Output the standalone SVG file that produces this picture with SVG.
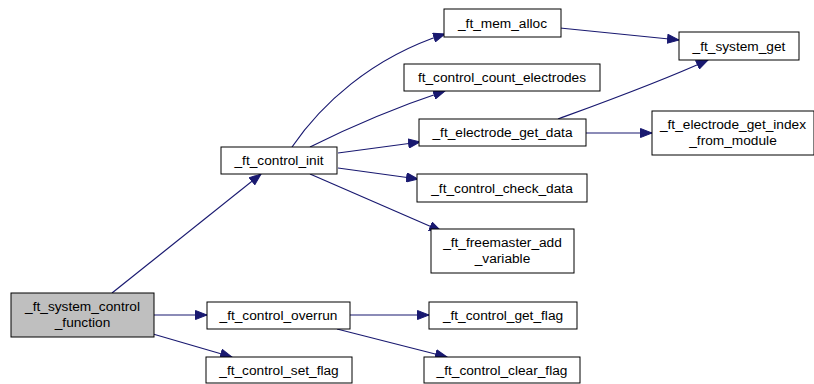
<svg xmlns="http://www.w3.org/2000/svg" width="814" height="384" viewBox="0 0 814 384">
<defs>
<style>
.n rect{fill:#fff;stroke:#000;stroke-width:1}
.n.root rect{fill:#bfbfbf}
.n text{font-family:"Liberation Sans",Arial,sans-serif;font-size:13.7px;text-anchor:middle;fill:#000}
.e path{fill:none;stroke:#191970;stroke-width:1.2}
</style>
<marker id="ah" markerUnits="userSpaceOnUse" markerWidth="13" markerHeight="10" refX="12" refY="5" orient="auto">
<path d="M0.5,0.5 L12,5 L0.5,9.5 z" fill="#191970" stroke="#191970" stroke-width="1"/>
</marker>
</defs>
<rect width="814" height="384" fill="#fff"/>
<g class="e" id="edges">
<path marker-end="url(#ah)" d="M112,293 L261,174"/>
<path marker-end="url(#ah)" d="M154,315 L207,315"/>
<path marker-end="url(#ah)" d="M153,334 L232,357"/>
<path marker-end="url(#ah)" d="M292,147 C320,106 370,58 445,34"/>
<path marker-end="url(#ah)" d="M310,147 C350,127 400,106 445,91"/>
<path marker-end="url(#ah)" d="M338,153 L420,142"/>
<path marker-end="url(#ah)" d="M338,168 L418,179"/>
<path marker-end="url(#ah)" d="M310,174 L441,231"/>
<path marker-end="url(#ah)" d="M560,28 L679,40"/>
<path marker-end="url(#ah)" d="M558,119 C610,100 660,82 708,60"/>
<path marker-end="url(#ah)" d="M586,133 L652,133"/>
<path marker-end="url(#ah)" d="M350,315 L429,315"/>
<path marker-end="url(#ah)" d="M337,329 L447,357"/>
</g>
<g class="n root" id="node_system_control_function"><rect x="11" y="293" width="143" height="44"/><text x="82.5" y="311">_ft_system_control</text><text x="82.5" y="327">_function</text></g>
<g class="n" id="node_control_init"><rect x="221" y="147" width="116" height="27"/><text x="279" y="165">_ft_control_init</text></g>
<g class="n" id="node_mem_alloc"><rect x="444" y="9" width="117" height="28"/><text x="502.5" y="27.5">_ft_mem_alloc</text></g>
<g class="n" id="node_count_electrodes"><rect x="404" y="64" width="196" height="27"/><text x="502" y="82">ft_control_count_electrodes</text></g>
<g class="n" id="node_electrode_get_data"><rect x="419" y="119" width="167" height="27"/><text x="502.5" y="137">_ft_electrode_get_data</text></g>
<g class="n" id="node_control_check_data"><rect x="417" y="174" width="170" height="28"/><text x="502" y="192.5">_ft_control_check_data</text></g>
<g class="n" id="node_freemaster_add_variable"><rect x="431" y="229" width="143" height="44"/><text x="502.5" y="247">_ft_freemaster_add</text><text x="502.5" y="263">_variable</text></g>
<g class="n" id="node_system_get"><rect x="679" y="32" width="120" height="28"/><text x="739" y="50.5">_ft_system_get</text></g>
<g class="n" id="node_electrode_get_index"><rect x="652" y="111" width="162" height="44"/><text x="733" y="129">_ft_electrode_get_index</text><text x="733" y="145">_from_module</text></g>
<g class="n" id="node_control_overrun"><rect x="207" y="302" width="143" height="27"/><text x="278.5" y="320">_ft_control_overrun</text></g>
<g class="n" id="node_control_get_flag"><rect x="429" y="302" width="148" height="27"/><text x="503" y="320">_ft_control_get_flag</text></g>
<g class="n" id="node_control_set_flag"><rect x="206" y="357" width="146" height="26"/><text x="279" y="375">_ft_control_set_flag</text></g>
<g class="n" id="node_control_clear_flag"><rect x="424" y="357" width="156" height="26"/><text x="502" y="375">_ft_control_clear_flag</text></g>
</svg>
